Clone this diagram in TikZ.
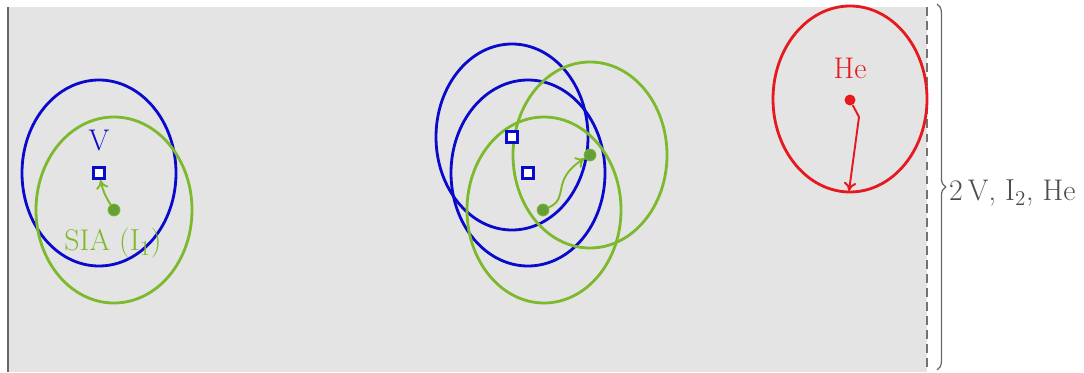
\documentclass[tikz,border=0pt]{standalone}
\usepackage{tikz}
\usetikzlibrary{arrows.meta,decorations.pathreplacing}
\definecolor{vacblue}{RGB}{10, 10, 205}
\definecolor{siagreen}{RGB}{125, 185, 45}
\definecolor{dotgreen}{RGB}{100, 160, 55}
\definecolor{hered}{RGB}{230, 25, 30}
\definecolor{boxgray}{RGB}{228, 228, 228}

\begin{document}
\begin{tikzpicture}[
  x=0.02cm, y=-0.02cm,
  font=\fontsize{17}{20}\selectfont,
  vring/.style={draw=vacblue, line width=1.6pt},
  iring/.style={draw=siagreen, line width=1.6pt},
  hring/.style={draw=hered, line width=1.6pt},
  vac/.style={draw=vacblue, fill=white, line width=1.8pt, minimum size=0.22cm, inner sep=0pt},
  sia/.style={circle, fill=dotgreen, draw=siagreen, minimum size=0.24cm, inner sep=0pt},
  hatom/.style={circle, fill=hered, minimum size=0.22cm, inner sep=0pt},
  hop/.style={-{To[length=5pt,width=7pt]}, line width=1.1pt}
]
\useasboundingbox (0,0) rectangle (1084,372);
% box
\fill[boxgray] (8,7) rectangle (927,372);
\draw[black!60, line width=1.2pt] (8,7) -- (8,372);
\draw[black!55, dash pattern=on 5pt off 3pt, line width=0.7pt] (927,7) -- (927,372);
% isolated pair
\draw[vring] (99,173) ellipse [x radius=77, y radius=93];
\draw[iring] (114,210) ellipse [x radius=78, y radius=93];
\node[vac] (v1) at (99,173) {};
\node[sia] (i1) at (114,210) {};
\node[text=vacblue] (lv) at (99,141) {V};
\node[text=siagreen] (li) at (113,243) {SIA ($\mathrm{I}_1$)};
\draw[hop, siagreen] (i1) to[bend left=10] (v1);
% cluster
\draw[vring] (512,137) ellipse [x radius=76, y radius=93];
\draw[vring] (528,173) ellipse [x radius=77, y radius=93];
\draw[iring] (544,210) ellipse [x radius=77, y radius=93];
\draw[iring] (590,155) ellipse [x radius=77, y radius=93];
\node[vac] (v2) at (512,137) {};
\node[vac] (v3) at (528,173) {};
\node[sia] (i2) at (543,210) {};
\node[sia] (i3) at (590,155) {};
\draw[hop, siagreen] (i2) .. controls (570,198) and (550,180) .. (i3);
% helium
\draw[hring] (850,99) ellipse [x radius=77, y radius=93];
\node[hatom] (he) at (850,100) {};
\node[text=hered] (lhe) at (850,68) {He};
\coordinate (hebot) at (849,191);
\draw[hop, hered] (he) -- (859,117) -- (hebot);
% brace
\coordinate (bt) at (937,4);
\coordinate (bb) at (937,370);
\draw[black!60, line width=0.7pt, decorate, decoration={brace, amplitude=5pt}] (bt) -- (bb);
\node[text=black!70, anchor=west] (lab) at (943,193) {2\,V, $\mathrm{I}_2$, He};
\end{tikzpicture}
\end{document}
